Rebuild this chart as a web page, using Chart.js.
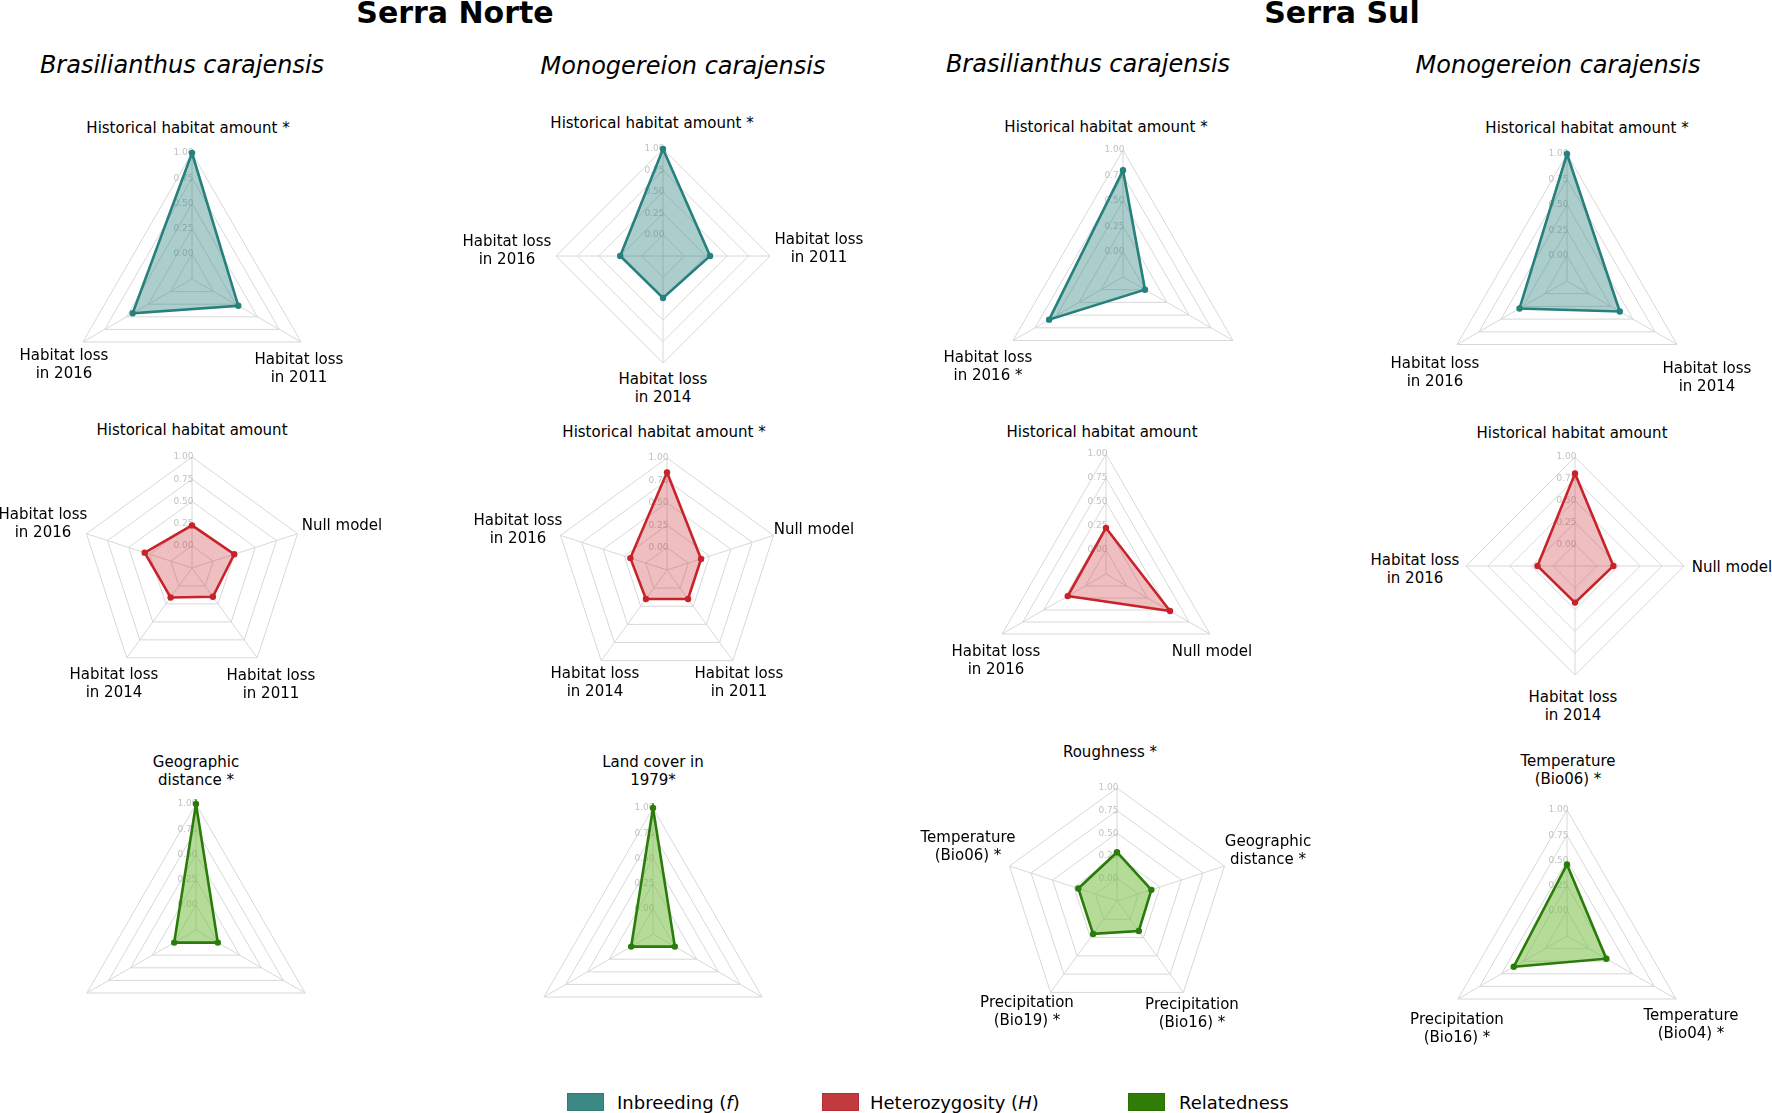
<!DOCTYPE html>
<html>
<head>
<meta charset="utf-8">
<script src="https://cdn.jsdelivr.net/npm/chart.js@4.4.1/dist/chart.umd.min.js"></script>
<style>
  html, body { margin: 0; padding: 0; background: #fff; }
  #fig { position: relative; width: 1772px; height: 1113px; overflow: hidden;
         font-family: "DejaVu Sans", "Noto Sans", sans-serif; color: #000; }
  .txt { position: absolute; white-space: nowrap; text-align: center; line-height: 1.22;
         transform: translate(-50%, -50%); }
  .site { font-weight: bold; font-size: 30px; }
  .species { font-style: italic; font-size: 24px; }
  .axis { font-size: 15px; }
  .panel { position: absolute; }
  .swatch { position: absolute; width: 37px; height: 18px; box-sizing: border-box; }
  .legtxt { position: absolute; font-size: 18px; transform: translateY(-50%); white-space: nowrap; }
</style>
</head>
<body>
<div id="fig"></div>
<script>
// ---- data ----
const siteNames = ['Serra Norte', 'Serra Sul'];
const speciesNames = ['Brasilianthus carajensis', 'Monogereion carajensis', 'Brasilianthus carajensis', 'Monogereion carajensis'];
const tickLabels = ['0.00', '0.25', '0.50', '0.75', '1.00'];
const seriesNames = ['Inbreeding (<i>f</i>)', 'Heterozygosity (<i>H</i>)', 'Relatedness'];

// Serra Norte - Brasilianthus carajensis
const nbInbreedingAxes = [['Historical habitat amount *'], ['Habitat loss', 'in 2011'], ['Habitat loss', 'in 2016']];
const nbInbreeding = [1.00, 0.28, 0.43];
const nbHeterozygosityAxes = [['Historical habitat amount'], ['Null model'], ['Habitat loss', 'in 2011'], ['Habitat loss', 'in 2014'], ['Habitat loss', 'in 2016']];
const nbHeterozygosity = [0.23, 0.25, 0.15, 0.16, 0.31];
const nbRelatednessAxes = [['Geographic', 'distance *'], [''], ['']];
const nbRelatedness = [1.00, 0.00, 0.00];

// Serra Norte - Monogereion carajensis
const nmInbreedingAxes = [['Historical habitat amount *'], ['Habitat loss', 'in 2011'], ['Habitat loss', 'in 2014'], ['Habitat loss', 'in 2016']];
const nmInbreeding = [1.00, 0.30, 0.24, 0.25];
const nmHeterozygosityAxes = [['Historical habitat amount *'], ['Null model'], ['Habitat loss', 'in 2011'], ['Habitat loss', 'in 2014'], ['Habitat loss', 'in 2016']];
const nmHeterozygosity = [0.84, 0.15, 0.15, 0.15, 0.18];
const nmRelatednessAxes = [['Land cover in', '1979*'], [''], ['']];
const nmRelatedness = [1.00, 0.00, 0.00];

// Serra Sul - Brasilianthus carajensis
const sbInbreedingAxes = [['Historical habitat amount *'], [''], ['Habitat loss', 'in 2016 *']];
const sbInbreeding = [0.80, 0.00, 0.59];
const sbHeterozygosityAxes = [['Historical habitat amount'], ['Null model'], ['Habitat loss', 'in 2016']];
const sbHeterozygosity = [0.23, 0.52, 0.21];
const sbRelatednessAxes = [['Roughness *'], ['Geographic', 'distance *'], ['Precipitation', '(Bio16) *'], ['Precipitation', '(Bio19) *'], ['Temperature', '(Bio06) *']];
const sbRelatedness = [0.29, 0.15, 0.16, 0.20, 0.20];

// Serra Sul - Monogereion carajensis
const smInbreedingAxes = [['Historical habitat amount *'], ['Habitat loss', 'in 2014'], ['Habitat loss', 'in 2016']];
const smInbreeding = [1.00, 0.35, 0.29];
const smHeterozygosityAxes = [['Historical habitat amount'], ['Null model'], ['Habitat loss', 'in 2014'], ['Habitat loss', 'in 2016']];
const smHeterozygosity = [0.81, 0.19, 0.17, 0.18];
const smRelatednessAxes = [['Temperature', '(Bio06) *'], ['Temperature', '(Bio04) *'], ['Precipitation', '(Bio16) *']];
const smRelatedness = [0.46, 0.20, 0.36];

// ---- styles ----
const seriesStyle = [
  { line: '#26807b', fill: 'rgba(45,130,128,0.40)', swatch: '#3b8884', edge: '#2e7c78' },
  { line: '#c8232b', fill: 'rgba(200,40,45,0.30)', swatch: '#c03a3e', edge: '#b02e33' },
  { line: '#2a7c0a', fill: 'rgba(120,190,70,0.55)', swatch: '#2f7d06', edge: '#2a7000' }
];

// ---- layout: centre, radius, label anchors ----
const panels = [
  { axes: nbInbreedingAxes, values: nbInbreeding, s: 0, cx: 192, cy: 279, r: 126,
    at: [[188, 128], [299, 368], [64, 364]] },
  { axes: nbHeterozygosityAxes, values: nbHeterozygosity, s: 1, cx: 192, cy: 568, r: 111,
    at: [[192, 430], [342, 525], [271, 684], [114, 683], [43, 523]] },
  { axes: nbRelatednessAxes, values: nbRelatedness, s: 2, cx: 196, cy: 930, r: 126,
    at: [[196, 771], [0, 0], [0, 0]] },
  { axes: nmInbreedingAxes, values: nmInbreeding, s: 0, cx: 663, cy: 256, r: 107,
    at: [[652, 123], [819, 248], [663, 388], [507, 250]] },
  { axes: nmHeterozygosityAxes, values: nmHeterozygosity, s: 1, cx: 667, cy: 570, r: 112,
    at: [[664, 432], [814, 529], [739, 682], [595, 682], [518, 529]] },
  { axes: nmRelatednessAxes, values: nmRelatedness, s: 2, cx: 653, cy: 934, r: 126,
    at: [[653, 771], [0, 0], [0, 0]] },
  { axes: sbInbreedingAxes, values: sbInbreeding, s: 0, cx: 1123, cy: 277, r: 127,
    at: [[1106, 127], [0, 0], [988, 366]] },
  { axes: sbHeterozygosityAxes, values: sbHeterozygosity, s: 1, cx: 1106, cy: 574, r: 120,
    at: [[1102, 432], [1212, 651], [996, 660]] },
  { axes: sbRelatednessAxes, values: sbRelatedness, s: 2, cx: 1117, cy: 901, r: 113,
    at: [[1110, 752], [1268, 850], [1192, 1013], [1027, 1011], [968, 846]] },
  { axes: smInbreedingAxes, values: smInbreeding, s: 0, cx: 1567, cy: 281, r: 127,
    at: [[1587, 128], [1707, 377], [1435, 372]] },
  { axes: smHeterozygosityAxes, values: smHeterozygosity, s: 1, cx: 1575, cy: 566, r: 109,
    at: [[1572, 433], [1732, 567], [1573, 706], [1415, 569]] },
  { axes: smRelatednessAxes, values: smRelatedness, s: 2, cx: 1567, cy: 936, r: 126,
    at: [[1568, 770], [1691, 1024], [1457, 1028]] }
];

const fig = document.getElementById('fig');

function addText(cls, html, x, y) {
  const d = document.createElement('div');
  d.className = 'txt ' + cls;
  d.innerHTML = html;
  d.style.left = x + 'px';
  d.style.top = y + 'px';
  fig.appendChild(d);
}

addText('site', siteNames[0], 455, 13);
addText('site', siteNames[1], 1342, 13);
[[182, 66], [683, 67], [1088, 65], [1558, 66]].forEach((p, i) => addText('species', speciesNames[i], p[0], p[1]));

const tickFont = 9;

panels.forEach(p => {
  const st = seriesStyle[p.s];
  const W = 2 * p.r + tickFont + 1;
  const wrap = document.createElement('div');
  wrap.className = 'panel';
  wrap.style.left = (p.cx - W / 2) + 'px';
  wrap.style.top = (p.cy - W / 2) + 'px';
  const cv = document.createElement('canvas');
  cv.width = W;
  cv.height = W;
  wrap.appendChild(cv);
  fig.appendChild(wrap);

  new Chart(cv, {
    type: 'radar',
    data: {
      labels: p.axes,
      datasets: [{
        data: p.values,
        borderColor: st.line,
        backgroundColor: st.fill,
        borderWidth: 2.6,
        pointRadius: 3.2,
        pointBorderWidth: 0,
        pointBackgroundColor: st.line,
        fill: 'start'
      }]
    },
    options: {
      responsive: false,
      animation: false,
      plugins: { legend: { display: false }, tooltip: { enabled: false } },
      scales: {
        r: {
          min: -0.25,
          max: 1,
          ticks: {
            stepSize: 0.25,
            showLabelBackdrop: false,
            backdropPadding: 0,
            color: '#c2c2c2',
            font: { family: 'DejaVu Sans', size: tickFont },
            callback: v => {
              const k = Math.round(v * 4);
              return k < 0 ? '' : tickLabels[k] + '\u2007\u2007\u2007';
            }
          },
          grid: { color: '#d8d8d8', lineWidth: 1 },
          angleLines: { color: '#d8d8d8', lineWidth: 1 },
          pointLabels: { display: false }
        }
      }
    }
  });

  p.axes.forEach((lab, i) => {
    if (lab.join('') === '') return;
    addText('axis', lab.join('<br>'), p.at[i][0], p.at[i][1]);
  });
});

// legend
const legendX = [[567, 617], [822, 870], [1128, 1179]];
seriesNames.forEach((name, i) => {
  const sw = document.createElement('div');
  sw.className = 'swatch';
  sw.style.left = legendX[i][0] + 'px';
  sw.style.top = '1093px';
  sw.style.background = seriesStyle[i].swatch;
  sw.style.border = '1px solid ' + seriesStyle[i].edge;
  fig.appendChild(sw);
  const t = document.createElement('div');
  t.className = 'legtxt';
  t.innerHTML = name;
  t.style.left = legendX[i][1] + 'px';
  t.style.top = '1102px';
  fig.appendChild(t);
});
</script>
</body>
</html>
